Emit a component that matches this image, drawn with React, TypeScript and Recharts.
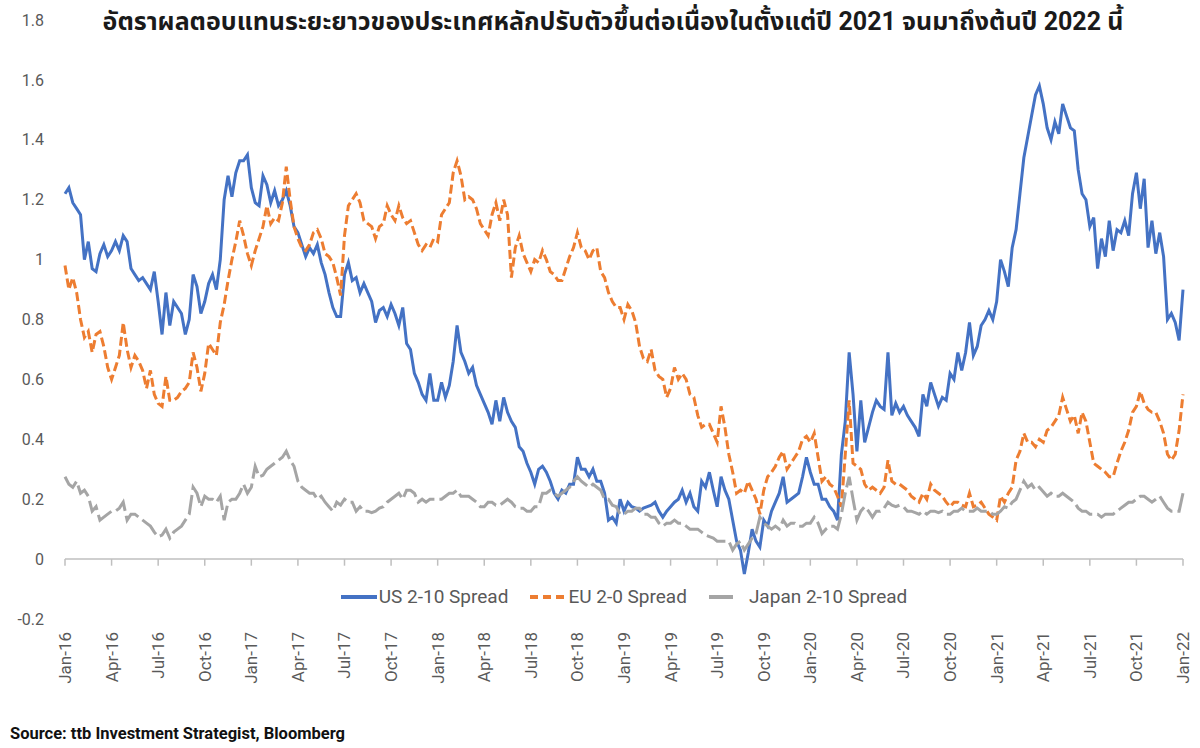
import { LineChart, Line, XAxis, YAxis, ReferenceLine, Legend } from 'recharts'

// monthly grid: one sample every quarter month, Jan-2016 .. Jan-2022
const SAMPLE_STEP = 0.25

const tickLabels = [
  'Jan-16', 'Apr-16', 'Jul-16', 'Oct-16',
  'Jan-17', 'Apr-17', 'Jul-17', 'Oct-17',
  'Jan-18', 'Apr-18', 'Jul-18', 'Oct-18',
  'Jan-19', 'Apr-19', 'Jul-19', 'Oct-19',
  'Jan-20', 'Apr-20', 'Jul-20', 'Oct-20',
  'Jan-21', 'Apr-21', 'Jul-21', 'Oct-21',
  'Jan-22',
]

const yTicks = [-0.2, 0, 0.2, 0.4, 0.6, 0.8, 1, 1.2, 1.4, 1.6, 1.8]

// US 2-10 spread
const usSpread = [
  // 2016
  1.22, 1.24, 1.19, 1.17, 1.15, 1.0, 1.06, 0.97, 0.96, 1.02, 1.05, 1.01,
  1.03, 1.06, 1.03, 1.08, 1.06, 0.97, 0.95, 0.93, 0.94, 0.92, 0.9, 0.96,
  0.86, 0.75, 0.89, 0.78, 0.86, 0.84, 0.82, 0.75, 0.8, 0.95, 0.91, 0.82,
  0.86, 0.92, 0.95, 0.9, 1.0, 1.2, 1.28, 1.21, 1.29, 1.33, 1.33, 1.35,
  // 2017
  1.24, 1.19, 1.18, 1.28, 1.25, 1.19, 1.23, 1.18, 1.2, 1.23, 1.18, 1.11,
  1.09, 1.05, 1.01, 1.04, 1.02, 1.05, 0.99, 0.95, 0.89, 0.84, 0.81, 0.81,
  0.95, 0.99, 0.93, 0.94, 0.89, 0.92, 0.89, 0.86, 0.79, 0.83, 0.84, 0.81,
  0.85, 0.82, 0.78, 0.84, 0.72, 0.7, 0.62, 0.59, 0.55, 0.53, 0.62, 0.53,
  // 2018
  0.53, 0.59, 0.54, 0.58, 0.66, 0.78, 0.69, 0.66, 0.62, 0.64, 0.58, 0.55,
  0.52, 0.49, 0.45, 0.53, 0.46, 0.54, 0.49, 0.46, 0.44, 0.375, 0.36, 0.32,
  0.29, 0.25, 0.3, 0.31, 0.29, 0.26, 0.22, 0.2, 0.23, 0.22, 0.25, 0.25,
  0.34, 0.3, 0.3, 0.275, 0.3, 0.26, 0.26, 0.22, 0.13, 0.14, 0.12, 0.2,
  // 2019
  0.16, 0.19, 0.175, 0.17, 0.16, 0.17, 0.175, 0.18, 0.19, 0.16, 0.14, 0.16,
  0.175, 0.19, 0.2, 0.23, 0.19, 0.22, 0.175, 0.16, 0.26, 0.24, 0.29, 0.23,
  0.175, 0.275, 0.23, 0.2, 0.13, 0.06, 0.03, -0.05, 0.02, 0.1, 0.06, 0.04,
  0.13, 0.11, 0.16, 0.19, 0.22, 0.275, 0.19, 0.2, 0.21, 0.22, 0.275, 0.34,
  // 2020
  0.29, 0.25, 0.25, 0.2, 0.2, 0.175, 0.16, 0.13, 0.35, 0.46, 0.69, 0.55,
  0.36, 0.53, 0.39, 0.44, 0.49, 0.53, 0.51, 0.5, 0.69, 0.48, 0.52, 0.49,
  0.51, 0.48, 0.46, 0.44, 0.41, 0.55, 0.51, 0.59, 0.55, 0.51, 0.54, 0.53,
  0.62, 0.6, 0.69, 0.63, 0.69, 0.79, 0.68, 0.71, 0.78, 0.8, 0.83, 0.8,
  // 2021
  0.86, 1.0, 0.96, 0.91, 1.04, 1.1, 1.22, 1.34, 1.41, 1.48, 1.55, 1.58,
  1.52, 1.44, 1.4, 1.46, 1.42, 1.52, 1.48, 1.44, 1.43, 1.3, 1.22, 1.2,
  1.11, 1.14, 0.97, 1.07, 1.01, 1.13, 1.03, 1.1, 1.09, 1.13, 1.08, 1.22,
  1.29, 1.17, 1.27, 1.04, 1.13, 1.02, 1.09, 1.01, 0.8, 0.82, 0.79, 0.73,
  // Jan-22
  0.9,
]

// EU 2-0 spread
const euSpread = [
  // 2016
  0.98, 0.9, 0.94, 0.89, 0.8, 0.74, 0.76, 0.69, 0.75, 0.76, 0.71, 0.64,
  0.6, 0.64, 0.68, 0.79, 0.7, 0.64, 0.68, 0.66, 0.63, 0.57, 0.63, 0.55,
  0.52, 0.51, 0.61, 0.53, 0.53, 0.54, 0.56, 0.57, 0.59, 0.69, 0.64, 0.56,
  0.62, 0.72, 0.7, 0.68, 0.79, 0.85, 0.93, 1.0, 1.06, 1.13, 1.08, 1.02,
  // 2017
  0.98, 1.03, 1.07, 1.11, 1.18, 1.12, 1.14, 1.13, 1.19, 1.31, 1.2, 1.11,
  1.07, 1.04, 1.03, 1.05, 1.09, 1.1, 1.07, 1.02, 1.01, 0.99, 0.94, 0.88,
  1.08, 1.18, 1.2, 1.22, 1.19, 1.13, 1.12, 1.11, 1.07, 1.11, 1.12, 1.18,
  1.15, 1.13, 1.18, 1.14, 1.12, 1.13, 1.09, 1.05, 1.03, 1.05, 1.04, 1.07,
  // 2018
  1.06, 1.15, 1.17, 1.19, 1.29, 1.33, 1.28, 1.2, 1.21, 1.2, 1.17, 1.12,
  1.1, 1.08, 1.15, 1.19, 1.13, 1.2, 1.15, 0.94, 1.04, 1.08, 1.02, 0.99,
  0.96, 1.0, 0.99, 1.03, 1.0, 0.96, 0.95, 0.93, 0.93, 0.97, 1.01, 1.04,
  1.09, 1.04, 1.03, 1.0, 1.03, 1.04, 0.96, 0.94, 0.89, 0.86, 0.84, 0.84,
  // 2019
  0.8, 0.85, 0.83, 0.79, 0.71, 0.67, 0.66, 0.7, 0.63, 0.61, 0.6, 0.54,
  0.57, 0.64, 0.6, 0.62, 0.6, 0.55, 0.54, 0.48, 0.44, 0.45, 0.45, 0.42,
  0.39, 0.51, 0.44, 0.35, 0.29, 0.22, 0.23, 0.22, 0.26, 0.23, 0.2, 0.15,
  0.23, 0.275, 0.29, 0.31, 0.34, 0.36, 0.3, 0.32, 0.34, 0.36, 0.4, 0.41,
  // 2020
  0.39, 0.42, 0.34, 0.26, 0.275, 0.25, 0.24, 0.21, 0.175, 0.35, 0.53, 0.32,
  0.31, 0.3, 0.25, 0.23, 0.24, 0.23, 0.22, 0.24, 0.33, 0.26, 0.25, 0.25,
  0.24, 0.23, 0.21, 0.2, 0.19, 0.22, 0.2, 0.25, 0.23, 0.22, 0.21, 0.19,
  0.175, 0.19, 0.19, 0.18, 0.175, 0.22, 0.175, 0.18, 0.19, 0.17, 0.15, 0.14,
  // 2021
  0.13, 0.21, 0.19, 0.22, 0.24, 0.33, 0.36, 0.42, 0.39, 0.39, 0.375, 0.4,
  0.39, 0.43, 0.44, 0.46, 0.48, 0.54, 0.5, 0.46, 0.48, 0.42, 0.49, 0.46,
  0.39, 0.32, 0.31, 0.3, 0.29, 0.275, 0.275, 0.32, 0.36, 0.39, 0.43, 0.49,
  0.51, 0.56, 0.52, 0.5, 0.49, 0.49, 0.46, 0.42, 0.35, 0.33, 0.35, 0.43,
  // Jan-22
  0.55,
]

// Japan 2-10 spread
const jpSpread = [
  // 2016
  0.275, 0.25, 0.24, 0.26, 0.22, 0.23, 0.21, 0.16, 0.175, 0.13, 0.14, 0.15,
  0.16, 0.16, 0.17, 0.19, 0.13, 0.15, 0.15, 0.14, 0.13, 0.12, 0.11, 0.09,
  0.075, 0.08, 0.1, 0.07, 0.09, 0.1, 0.11, 0.13, 0.15, 0.24, 0.22, 0.175,
  0.21, 0.2, 0.2, 0.19, 0.21, 0.13, 0.19, 0.2, 0.2, 0.22, 0.25, 0.22,
  // 2017
  0.24, 0.31, 0.275, 0.28, 0.3, 0.31, 0.32, 0.33, 0.34, 0.36, 0.33, 0.31,
  0.26, 0.24, 0.23, 0.22, 0.22, 0.2, 0.21, 0.19, 0.175, 0.16, 0.19, 0.18,
  0.2, 0.19, 0.19, 0.16, 0.175, 0.16, 0.16, 0.155, 0.16, 0.17, 0.175, 0.19,
  0.2, 0.21, 0.22, 0.2, 0.23, 0.23, 0.22, 0.19, 0.2, 0.19, 0.2, 0.2,
  // 2018
  0.2, 0.2, 0.21, 0.22, 0.22, 0.23, 0.21, 0.21, 0.21, 0.2, 0.19, 0.175,
  0.175, 0.19, 0.19, 0.18, 0.18, 0.19, 0.2, 0.19, 0.175, 0.17, 0.17, 0.16,
  0.16, 0.175, 0.175, 0.22, 0.22, 0.23, 0.22, 0.21, 0.22, 0.23, 0.24, 0.26,
  0.275, 0.26, 0.25, 0.24, 0.25, 0.24, 0.23, 0.2, 0.2, 0.18, 0.175, 0.15,
  // 2019
  0.15, 0.16, 0.16, 0.17, 0.17, 0.15, 0.15, 0.14, 0.14, 0.12, 0.11, 0.12,
  0.12, 0.13, 0.12, 0.12, 0.11, 0.1, 0.1, 0.1, 0.09, 0.08, 0.075, 0.07,
  0.06, 0.06, 0.06, 0.06, 0.03, 0.05, 0.06, 0.03, 0.05, 0.07, 0.085, 0.14,
  0.12, 0.11, 0.1, 0.11, 0.1, 0.13, 0.11, 0.12, 0.12, 0.11, 0.11, 0.12,
  // 2020
  0.12, 0.14, 0.12, 0.085, 0.1, 0.11, 0.11, 0.1, 0.15, 0.22, 0.275, 0.2,
  0.13, 0.16, 0.175, 0.16, 0.14, 0.16, 0.16, 0.17, 0.19, 0.18, 0.175, 0.18,
  0.175, 0.16, 0.16, 0.155, 0.15, 0.16, 0.15, 0.16, 0.16, 0.155, 0.16, 0.15,
  0.15, 0.16, 0.16, 0.17, 0.16, 0.16, 0.16, 0.17, 0.16, 0.16, 0.16, 0.15,
  // 2021
  0.15, 0.16, 0.175, 0.17, 0.19, 0.2, 0.23, 0.26, 0.24, 0.25, 0.23, 0.24,
  0.225, 0.21, 0.22, 0.21, 0.21, 0.22, 0.21, 0.2, 0.19, 0.17, 0.16, 0.16,
  0.15, 0.15, 0.15, 0.14, 0.15, 0.15, 0.15, 0.16, 0.17, 0.18, 0.19, 0.19,
  0.2, 0.21, 0.21, 0.2, 0.19, 0.2, 0.21, 0.19, 0.17, 0.16, 0.16, 0.16,
  // Jan-22
  0.22,
]

const series = [
  { key: 'us', name: 'US 2-10 Spread', color: '#4472C4', dash: undefined, keyDash: undefined, keyLen: 36 },
  { key: 'eu', name: 'EU 2-0 Spread', color: '#ED7D31', dash: '9 4', keyDash: '8 5', keyLen: 34 },
  { key: 'jp', name: 'Japan 2-10 Spread', color: '#A5A5A5', dash: '20 5', keyDash: undefined, keyLen: 24 },
]

const data = usSpread.map((us, i) => ({
  t: i * SAMPLE_STEP,
  us,
  eu: euSpread[i],
  jp: jpSpread[i],
}))

const monthTicks = tickLabels.map((_, i) => i * 3)

const GREY_TEXT = '#595959'
const FONT = 'Roboto, "Noto Sans", "Noto Sans Thai", sans-serif'

function MonthTick({ x, y, payload }: any) {
  return (
    <text
      x={x}
      y={y}
      dy="0.35em"
      transform={`rotate(-90, ${x}, ${y})`}
      textAnchor="end"
      fill={GREY_TEXT}
      fontSize={17}
      fontFamily={FONT}
    >
      {tickLabels[Math.round(payload.value / 3)]}
    </text>
  )
}

function SpreadLegend() {
  return (
    <div style={{ display: 'flex', justifyContent: 'center', alignItems: 'center', gap: 22 }}>
      {series.map((s) => (
        <div key={s.key} style={{ display: 'flex', alignItems: 'center' }}>
          <svg width={s.key === 'jp' ? 40 : 38} height={10}>
            <line
              x1={0}
              y1={5}
              x2={s.keyLen}
              y2={5}
              stroke={s.color}
              strokeWidth={4}
              strokeDasharray={s.keyDash}
            />
          </svg>
          <span style={{ fontSize: 19, color: GREY_TEXT, fontFamily: FONT }}>{s.name}</span>
        </div>
      ))}
    </div>
  )
}

export default function App() {
  return (
    <div
      style={{
        position: 'absolute',
        left: 0,
        top: 0,
        width: 1200,
        height: 748,
        background: '#fff',
        fontFamily: FONT,
      }}
    >
      <div
        style={{
          position: 'absolute',
          left: 13,
          top: 3,
          width: 1200,
          textAlign: 'center',
          fontSize: 25,
          fontWeight: 700,
          color: '#1a1a1a',
          zIndex: 1,
        }}
      >
        อัตราผลตอบแทนระยะยาวของประเทศหลักปรับตัวขึ้นต่อเนื่องในตั้งแต่ปี 2021 จนมาถึงต้นปี 2022 นี้
      </div>

      <LineChart width={1200} height={748} data={data} margin={{ top: 20, right: 17, bottom: 0, left: 0 }}>
        <YAxis
          type="number"
          domain={[-0.2, 1.8]}
          ticks={yTicks}
          width={65}
          axisLine={false}
          tickLine={false}
          tickSize={0}
          tickMargin={21}
          tick={{ fill: GREY_TEXT, fontSize: 16, fontFamily: FONT }}
        />
        <XAxis
          dataKey="t"
          type="number"
          domain={[0, 72]}
          ticks={monthTicks}
          interval={0}
          height={129}
          axisLine={false}
          tickLine={false}
          tickSize={0}
          tickMargin={13}
          tick={<MonthTick />}
        />
        <ReferenceLine y={0} stroke="#BFBFBF" strokeWidth={1.5} />
        {monthTicks.map((m) => (
          <ReferenceLine
            key={m}
            segment={[
              { x: m, y: 0 },
              { x: m, y: -0.022 },
            ]}
            stroke="#BFBFBF"
            strokeWidth={1.5}
          />
        ))}
        {series.map((s) => (
          <Line
            key={s.key}
            type="linear"
            dataKey={s.key}
            name={s.name}
            stroke={s.color}
            strokeWidth={3}
            strokeDasharray={s.dash}
            dot={false}
            activeDot={false}
            isAnimationActive={false}
          />
        ))}
        <Legend
          layout="horizontal"
          verticalAlign="middle"
          align="center"
          content={<SpreadLegend />}
          wrapperStyle={{ top: 585, left: 65, width: 1118 }}
        />
      </LineChart>

      <div
        style={{
          position: 'absolute',
          left: 10,
          top: 724,
          fontSize: 16.5,
          fontWeight: 700,
          color: '#111',
        }}
      >
        Source: ttb Investment Strategist, Bloomberg
      </div>
    </div>
  )
}
